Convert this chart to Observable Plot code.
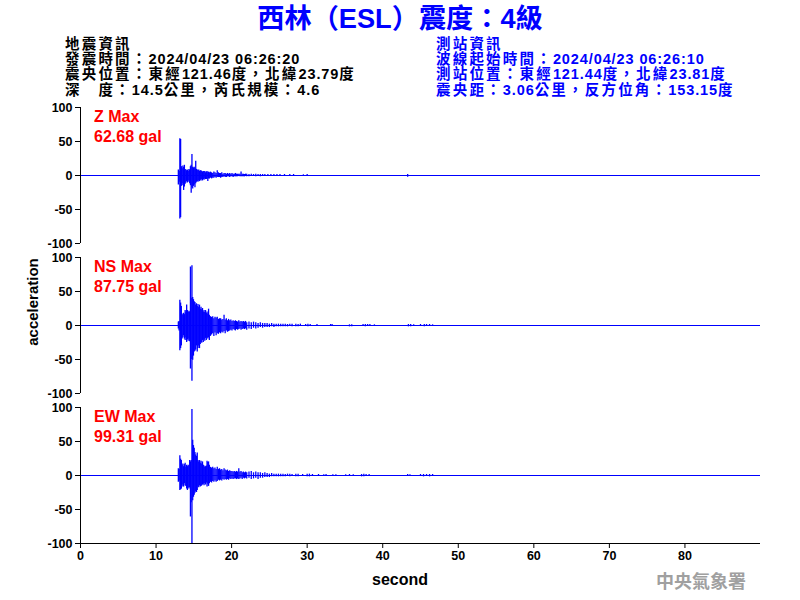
<!DOCTYPE html>
<html><head><meta charset="utf-8">
<script src="https://cdn.jsdelivr.net/npm/d3@7"></script>
<script src="https://cdn.jsdelivr.net/npm/@observablehq/plot@0.6"></script>
<style>
body{margin:0;background:#fff;}
#root{position:relative;width:800px;height:600px;overflow:hidden;background:#fff;font-family:"Liberation Sans","Noto Sans CJK TC",sans-serif;font-weight:bold;}
.t{position:absolute;white-space:nowrap;line-height:1;}
.p{position:absolute;left:0;}
</style></head><body><div id="root"></div>
<script>
// ---- text content ----
const title = "西林（ESL）震度：4級";
const quakeInfo = ["地震資訊", "發震時間：2024/04/23 06:26:20", "震央位置：東經121.46度，北緯23.79度", "深　度：14.5公里，芮氏規模：4.6"];
const stationInfo = ["測站資訊", "波線起始時間：2024/04/23 06:26:10", "測站位置：東經121.44度，北緯23.81度", "震央距：3.06公里，反方位角：153.15度"];
const components = ["Z Max", "NS Max", "EW Max"];
const maxValues = ["62.68 gal", "87.75 gal", "99.31 gal"];
const yTicks = [-100, -50, 0, 50, 100];
const xTicks = [0, 10, 20, 30, 40, 50, 60, 70, 80];

// ---- waveform envelopes (time s, upper gal, lower gal) ----
const zT  = [12.95,13.05,13.15,13.25,13.35,13.45,13.55,13.65,13.75,13.85,13.95,14.05,14.15,14.25,14.35,14.45,14.55,14.65,14.75,14.85,14.95,15.05,15.15,15.25,15.35,15.45,15.55,15.65,15.75,15.85,15.95,16.05,16.15,16.25,16.35,16.45,16.55,16.65,16.75,16.85,16.95,17.05,17.2,17.35,17.5,17.65,17.8,17.95,18.1,18.25,18.4,18.55,18.7,18.85,19.0,19.15,19.3,19.45,19.6,19.75,19.9,20.05,20.2,20.35,20.5,20.65,20.8,20.95,21.1,21.25,21.4,21.55,21.7,21.85,22.0,22.3,22.6,22.9,23.2,23.5,23.8,24.1,24.4,24.8,25.2,25.6,26.0,26.4,27.0,27.7,28.2,29.5,30.0,43.3];
const zHi = [8,6,54,53,13,10,14,12,15,9,8,7,8,6,9,8,13,15,31,12,11,12,10,21,9,8,7,8,6,7,7,6,5,6,5,6,4,5,6,4,5,4,5,4,3,5,4,3,7,4,3,3,4,2,3,3,2,3,2,3,2,3,2,2,3,2,2,2,2,5,2,2,1.5,2,2,1.5,2,1.5,2,1.5,1.5,1.5,1.5,1.5,1.5,1.5,1.5,1.5,1.5,1.5,1.5,1,1.5,1.5];
const zLo = [-14,-10,-64,-62,-16,-12,-15,-22,-17,-13,-11,-9,-11,-8,-10,-12,-15,-26,-18,-20,-16,-14,-18,-12,-10,-9,-10,-8,-9,-7,-8,-6,-8,-6,-7,-5,-6,-6,-5,-9,-5,-5,-4,-5,-4,-4,-3,-4,-3,-3,-3,-4,-3,-3,-2,-3,-3,-2,-2,-3,-2,-2,-3,-2,-2,-2,-2,-1,-2,-2,-2,-2,-2,-1.5,-2,-2,-1.5,-1.5,-2,-1.5,-2,-1.5,-1.5,-1.5,-1,-1.5,-1,-1.5,-1,-1,-1,-1.5,-1,-2.5];

const nsT  = [12.95,13.05,13.15,13.25,13.35,13.45,13.55,13.65,13.75,13.85,13.95,14.05,14.15,14.25,14.35,14.45,14.55,14.65,14.75,14.85,14.95,15.05,15.15,15.25,15.35,15.45,15.55,15.65,15.75,15.85,15.95,16.05,16.15,16.25,16.35,16.45,16.55,16.65,16.75,16.85,16.95,17.05,17.2,17.35,17.5,17.65,17.8,17.95,18.1,18.25,18.4,18.55,18.7,18.85,19.0,19.15,19.3,19.45,19.6,19.75,19.9,20.05,20.2,20.35,20.5,20.65,20.8,20.95,21.1,21.25,21.4,21.55,21.7,21.85,22.0,22.3,22.6,22.9,23.2,23.5,23.8,24.1,24.4,24.7,25.0,25.3,25.6,25.9,26.2,26.5,26.8,27.1,27.4,27.7,28.0,28.5,28.8,29.1,29.8,30.1,30.4,31.3,33.1,33.3,35.6,35.9,37.4,37.7,38.0,38.3,38.9,43.4,43.7,44.1,45.0,45.5,45.8,46.2,46.6];
const nsHi = [5,6,37,33,28,17,15,18,16,22,20,30,22,19,21,20,86,40,88,41,38,35,34,30,32,28,31,27,30,24,27,23,25,20,22,19,22,18,20,17,24,15,13,12,13,10,12,11,12,9,10,10,8,9,15,8,10,7,9,7,8,6,7,6,7,6,5,7,5,6,5,6,5,6,4,5,4,5,4,3,4,3,3,3,2,3,2,2,2,2,2,2,1.5,2,2,2,1.5,2,1.5,2,1.5,1.5,1.5,1.5,1,1,1.5,1.5,1.5,1.5,1,1.5,1.5,1,1.5,1.5,1.5,1.5,1];
const nsLo = [-5,-8,-37,-34,-30,-20,-18,-15,-20,-22,-18,-25,-21,-23,-20,-24,-64,-50,-82,-51,-45,-39,-38,-36,-30,-39,-34,-30,-34,-28,-25,-26,-22,-25,-21,-23,-19,-22,-18,-20,-18,-22,-16,-14,-12,-16,-11,-15,-12,-13,-11,-12,-10,-11,-9,-12,-8,-10,-9,-8,-7,-8,-6,-7,-8,-6,-7,-6,-5,-7,-6,-5,-6,-5,-7,-5,-6,-4,-5,-4,-3,-4,-3,-3,-3,-2,-3,-2,-2,-2,-2,-2,-2,-1.5,-2,-2,-2,-1.5,-1.5,-2,-1.5,-1,-1,-1,-2,-2,-1.5,-2,-1.5,-1,-1.5,-2,-2,-1.5,-1.5,-2,-1.5,-1.5,-1.5];

const ewT  = [12.95,13.05,13.15,13.25,13.35,13.45,13.55,13.65,13.75,13.85,13.95,14.05,14.15,14.25,14.35,14.45,14.55,14.65,14.75,14.85,14.95,15.05,15.15,15.25,15.35,15.45,15.55,15.65,15.75,15.85,15.95,16.05,16.15,16.25,16.35,16.45,16.55,16.65,16.75,16.85,16.95,17.05,17.2,17.35,17.5,17.65,17.8,17.95,18.1,18.25,18.4,18.55,18.7,18.85,19.0,19.15,19.3,19.45,19.6,19.75,19.9,20.05,20.2,20.35,20.5,20.65,20.8,20.95,21.1,21.25,21.4,21.55,21.7,21.85,22.0,22.3,22.6,22.9,23.2,23.5,23.8,24.1,24.4,24.7,25.0,25.3,25.6,25.9,26.2,26.5,26.8,27.1,27.4,27.7,28.0,28.5,28.8,29.4,30.0,30.3,30.7,31.5,32.2,32.5,33.4,33.8,35.1,35.6,36.1,37.2,37.5,37.8,38.2,43.3,43.6,45.0,45.4,45.8,46.2,46.6];
const ewHi = [10,9,29,24,22,15,17,13,16,18,12,15,13,15,14,22,20,22,97,52,44,40,34,30,28,33,22,20,22,18,21,17,20,15,14,12,13,14,21,19,20,15,12,11,12,10,11,9,12,9,10,8,9,7,10,8,7,8,6,7,6,6,5,6,5,6,5,10,5,6,4,5,4,5,4,5,6,4,5,4,4,3,4,3,2,3,2,2,2,2,2,1.5,2,2,1.5,2,2,1.5,2,2,1.5,1.5,1,1.5,1,1,1,1.5,1,1.5,2,1.5,1.5,1.5,1,1.5,1.5,1.5,1.5,1.5];
const ewLo = [-10,-8,-22,-21,-20,-17,-14,-17,-12,-15,-16,-20,-22,-18,-20,-18,-61,-40,-100,-37,-32,-29,-26,-24,-25,-22,-17,-18,-15,-17,-16,-15,-14,-13,-15,-12,-14,-11,-17,-13,-16,-12,-10,-11,-9,-10,-8,-10,-9,-7,-8,-7,-8,-6,-7,-6,-7,-6,-7,-5,-6,-5,-6,-5,-5,-6,-5,-6,-5,-4,-6,-4,-5,-4,-5,-4,-6,-5,-4,-6,-4,-4,-3,-3,-3,-2,-2,-2,-2,-2,-2,-2,-1.5,-2,-1.5,-2,-2,-1.5,-2,-2,-1.5,-1.5,-1,-1,-1.5,-1,-1,-1,-1,-2,-2,-1.5,-1.5,-1.5,-1,-1.5,-2,-1.5,-2,-1.5];

const series = [[zT, zHi, zLo], [nsT, nsHi, nsLo], [ewT, ewHi, ewLo]];

const root = document.getElementById("root");
function addText(txt, left, top, size, color, extra) {
  const d = document.createElement("div");
  d.className = "t";
  d.textContent = txt;
  d.style.left = left + "px";
  d.style.top = top + "px";
  d.style.fontSize = size + "px";
  d.style.color = color;
  if (extra) Object.assign(d.style, extra);
  root.appendChild(d);
  return d;
}
// info line: CJK runs get wider spacing than Latin runs
function addInfo(txt, left, top, color) {
  const d = addText("", left, top, 14.5, color);
  const re = /[\u3000-\u9fff\uff00-\uffef]+|[^\u3000-\u9fff\uff00-\uffef]+/g;
  for (const run of txt.match(re)) {
    const s = document.createElement("span");
    s.textContent = run;
    s.style.letterSpacing = /[\u3000-\u9fff\uff00-\uffef]/.test(run) ? "2.2px" : "0.9px";
    d.appendChild(s);
  }
}

addText(title, 400, 4.5, 27.2, "#0000ff", {transform: "translateX(-50%)"});
quakeInfo.forEach((s, i) => addInfo(s, 65, 36.5 + i * 15.4, "#000000"));
stationInfo.forEach((s, i) => addInfo(s, 436, 36.5 + i * 15.4, "#0000ff"));

function panel(k) {
  const [T, Hi, Lo] = series[k];
  const data = T.map((t, i) => ({t, hi: Hi[i], lo: Lo[i]}));
  const last = k === 2;
  const marks = [
    Plot.ruleY([0], {stroke: "#0000ff", strokeWidth: 1}),
    Plot.ruleX(data, {x: "t", y1: "lo", y2: "hi", stroke: "#0000ff", strokeWidth: 1.3}),
    Plot.ruleX([0], {stroke: "#000000"}),
    Plot.axisY({ticks: yTicks, tickSize: 5, tickPadding: 3, label: null, tickFormat: d => String(d)})
  ];
  if (last) {
    marks.push(Plot.ruleY([-100], {stroke: "#000000"}));
    marks.push(Plot.axisX({ticks: xTicks, tickSize: 5, tickPadding: 3, label: null, tickFormat: d => String(d)}));
  }
  const svg = Plot.plot({
    width: 800, height: last ? 200 : 150,
    marginLeft: 80, marginRight: 40, marginTop: 7, marginBottom: last ? 57 : 7,
    x: {domain: [0, 90], axis: last ? undefined : null},
    y: {domain: [-100, 100]},
    style: {fontFamily: "Liberation Sans, Arial, sans-serif", fontSize: "12.5px", fontWeight: "bold", background: "transparent", color: "#000", overflow: "visible"},
    marks
  });
  const wrap = document.createElement("div");
  wrap.className = "p";
  wrap.style.top = (100 + k * 150) + "px";
  wrap.appendChild(svg);
  root.appendChild(wrap);
  addText(components[k], 94, 109 + k * 150, 16, "#ff0000");
  addText(maxValues[k], 94, 129 + k * 150, 16, "#ff0000");
}
[0, 1, 2].forEach(panel);

addText("acceleration", 32, 302, 15, "#000", {transform: "translate(-50%,-50%) rotate(-90deg)"});
addText("second", 400, 572, 16, "#000", {transform: "translateX(-50%)"});
addText("中央氣象署", 656, 571, 18, "#a0a0a0", {fontFamily: "'Noto Sans CJK TC', sans-serif"});
</script>
</body></html>
